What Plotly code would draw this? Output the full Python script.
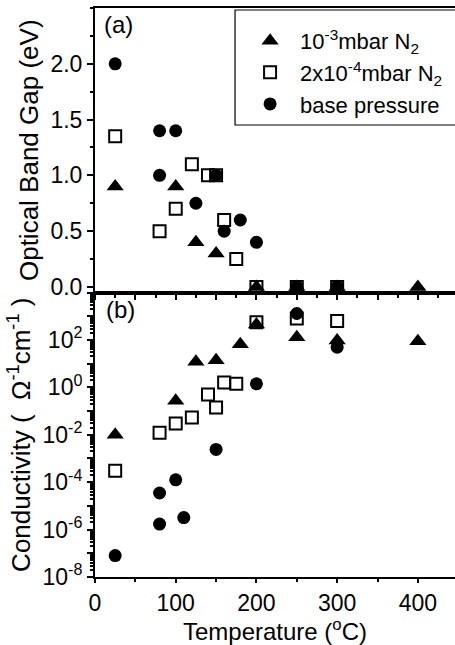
import plotly.graph_objects as go
from plotly.subplots import make_subplots

FONT = "Liberation Sans, Arial, Helvetica, sans-serif"

# ---- (a) optical band gap (eV) versus deposition temperature (°C) ----
gap_t_n2_high = [25, 100, 125, 150, 200, 250, 300, 400]
gap_v_n2_high = [0.9, 0.9, 0.4, 0.3, 0.0, 0.0, 0.0, 0.0]

gap_t_n2_low = [25, 80, 100, 120, 140, 150, 160, 175, 200, 250, 300]
gap_v_n2_low = [1.35, 0.5, 0.7, 1.1, 1.0, 1.0, 0.6, 0.25, 0.0, 0.0, 0.0]

gap_t_base = [25, 80, 80, 100, 125, 150, 160, 180, 200, 250, 300]
gap_v_base = [2.0, 1.4, 1.0, 1.4, 0.75, 1.0, 0.5, 0.6, 0.4, 0.0, 0.0]

# ---- (b) conductivity (Ohm^-1 cm^-1) versus deposition temperature (°C) ----
cond_t_n2_high = [25, 100, 125, 150, 180, 200, 250, 300, 400]
cond_v_n2_high = [1e-2, 0.27, 12, 14, 65, 450, 130, 95, 87]

cond_t_n2_low = [25, 80, 100, 120, 140, 150, 160, 175, 200, 250, 300]
cond_v_n2_low = [3e-4, 0.012, 0.03, 0.053, 0.5, 0.14, 1.6, 1.4, 550, 800, 630]

cond_t_base = [25, 80, 80, 100, 110, 150, 200, 250, 300]
cond_v_base = [8e-8, 3.5e-5, 1.7e-6, 1.26e-4, 3.2e-6, 2.4e-3, 1.4, 1300, 49]

series_names = [
    "10<sup>-3</sup>mbar N<sub>2</sub>",
    "2x10<sup>-4</sup>mbar N<sub>2</sub>",
    "base pressure",
]

gap_ticks = [0.0, 0.5, 1.0, 1.5, 2.0]
gap_tick_text = ["0.0", "0.5", "1.0", "1.5", "2.0"]
cond_exponents = list(range(-8, 5))

marker_styles = [
    dict(symbol="triangle-up", size=15, color="black", line=dict(width=0)),
    dict(symbol="square-open", size=12, color="black", line=dict(width=2, color="black")),
    dict(symbol="circle", size=13, color="black", line=dict(width=0)),
]

fig = make_subplots(rows=2, cols=1, vertical_spacing=0, row_heights=[0.5, 0.5])

gap_sets = [(gap_t_n2_high, gap_v_n2_high), (gap_t_n2_low, gap_v_n2_low), (gap_t_base, gap_v_base)]
cond_sets = [(cond_t_n2_high, cond_v_n2_high), (cond_t_n2_low, cond_v_n2_low), (cond_t_base, cond_v_base)]

for i, (t, v) in enumerate(gap_sets):
    fig.add_trace(go.Scatter(x=t, y=v, mode="markers", name=series_names[i],
                             marker=marker_styles[i], showlegend=True, cliponaxis=False),
                  row=1, col=1)
for i, (t, v) in enumerate(cond_sets):
    fig.add_trace(go.Scatter(x=t, y=v, mode="markers", name=series_names[i],
                             marker=marker_styles[i], showlegend=False),
                  row=2, col=1)

tick_font = dict(family=FONT, size=23, color="black")
xtitle_font = dict(family=FONT, size=24, color="black")
ytitle_font = dict(family=FONT, size=26, color="black")
label_font = dict(family=FONT, size=24, color="black")
legend_font = dict(family=FONT, size=22, color="black")
NB = "\u00a0"

axis_common = dict(showline=True, linecolor="black", linewidth=2, ticks="outside",
                   tickcolor="black", tickwidth=1.5, showgrid=False, zeroline=False,
                   tickfont=tick_font)

fig.update_xaxes(range=[0, 446], showticklabels=False, tickmode="linear", tick0=0, dtick=50,
                 ticklen=5, minor=dict(dtick=25, ticks="outside", ticklen=3, tickcolor="black"),
                 mirror=True, row=1, col=1, **axis_common)
fig.update_xaxes(range=[0, 446], tickmode="linear", tick0=0, dtick=100, ticklen=4,
                 minor=dict(dtick=50, ticks="outside", ticklen=3, tickcolor="black"),
                 mirror=True,
                 title=dict(text="Temperature (<sup>o</sup>C)", font=xtitle_font, standoff=2),
                 row=2, col=1, **axis_common)

fig.update_yaxes(range=[-0.05, 2.5], tickmode="array", tickvals=gap_ticks, ticktext=gap_tick_text,
                 ticklen=6, minor=dict(dtick=0.25, ticks="outside", ticklen=3, tickcolor="black"),
                 title=dict(text="Optical Band Gap (eV)", font=ytitle_font, standoff=4),
                 row=1, col=1, **axis_common)
fig.update_yaxes(type="log", range=[-8, 4], tickmode="array",
                 tickvals=[10.0 ** e for e in cond_exponents],
                 ticktext=[f"10<sup>{e}</sup>" if e % 2 == 0 and e < 4 else "" for e in cond_exponents],
                 ticklen=6, minor=dict(dtick="D1", ticks="outside", ticklen=3, tickcolor="black"),
                 title=dict(text=f"Conductivity ( {NB}\u03a9<sup>-1</sup>cm<sup>-1</sup> )",
                            font=ytitle_font, standoff=4),
                 row=2, col=1, **axis_common)

fig.add_annotation(text="(a)", x=0.02, y=0.995, xref="x domain", yref="y domain",
                   xanchor="left", yanchor="top", showarrow=False, font=label_font)
fig.add_annotation(text="(b)", x=0.025, y=0.995, xref="x2 domain", yref="y2 domain",
                   xanchor="left", yanchor="top", showarrow=False, font=label_font)

# legend frame: open on the right, running past the page edge
fig.add_shape(type="rect", xref="paper", yref="paper",
              x0=0.389, x1=1.2, y0=0.7944, y1=0.9965,
              line=dict(color="black", width=1.2), fillcolor="white", layer="above")

fig.update_layout(
    width=455, height=645,
    margin=dict(l=95, r=0, t=8, b=68, autoexpand=False),
    paper_bgcolor="white", plot_bgcolor="white",
    font=tick_font,
    legend=dict(x=0.403, y=0.979, xanchor="left", yanchor="top",
                bgcolor="rgba(0,0,0,0)", borderwidth=0,
                font=legend_font, itemwidth=50, tracegroupgap=0),
)

fig.write_html("out.html")
